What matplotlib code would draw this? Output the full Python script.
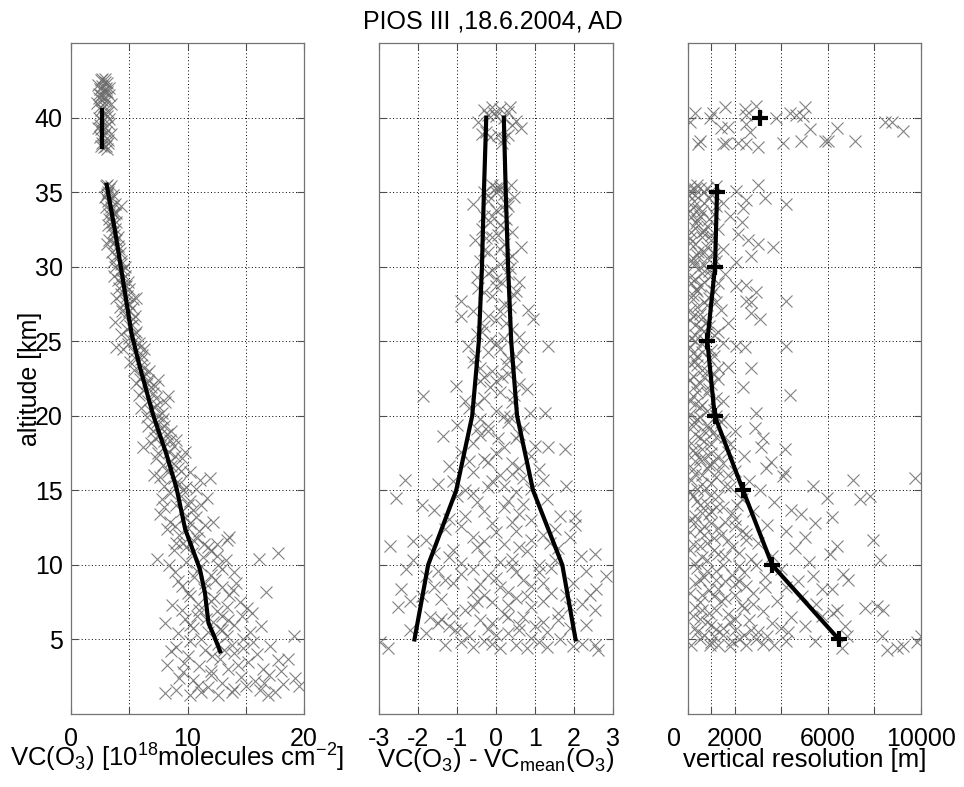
import numpy as np
import matplotlib
matplotlib.use("Agg")
import matplotlib.pyplot as plt
from matplotlib.transforms import ScaledTranslation

plt.rcParams['font.family'] = ['Liberation Sans', 'DejaVu Sans']
plt.rcParams['mathtext.fontset'] = 'custom'
plt.rcParams['mathtext.rm'] = 'Liberation Sans'
plt.rcParams['mathtext.it'] = 'Liberation Sans'
plt.rcParams['axes.unicode_minus'] = False

# ---- panel 1: ozone column, single retrievals (x) and mean profile
vc_pts = [2.6, 2.9, 3.1, 2.7, 3.0, 2.5, 2.8, 3.1, 2.6, 2.9, 2.4, 2.7, 3.0, 2.8, 2.6, 2.9, 3.1, 2.7, 2.5, 2.9,
          2.6, 3.0, 2.8, 3.2, 2.7, 3.0, 2.8, 3.2,
          3.0, 3.3, 3.1, 3.5, 3.2, 3.8, 4.3, 3.4, 3.7, 3.3, 3.9, 3.5, 3.6, 4.0, 3.1, 3.7, 4.1, 3.5, 3.9, 4.3,
          3.8, 4.2, 4.6, 4.0, 4.4, 5.0, 4.3, 5.35, 4.7, 4.2, 5.0, 5.5, 4.6, 3.8, 5.2, 4.8, 5.5, 5.0, 5.8, 3.9,
          4.5, 5.4, 6.1, 5.6, 6.0, 5.4, 6.4, 5.9, 7.2, 6.5, 6.2, 7.0, 8.35, 6.6, 7.4, 6.8, 7.8, 6.5, 7.4, 8.0,
          7.0, 7.6, 8.5, 6.9, 6.2, 8.0, 9.5, 7.5, 8.6, 7.9, 9.2, 8.3, 7.6, 11.1, 11.9, 9.0, 8.0, 9.6, 8.5,
          11.65, 10.2, 9.0, 10.5, 7.6, 9.8, 8.5, 11.5, 10.0, 8.2, 9.3, 10.8, 13.4, 13.6, 9.6, 11.8, 8.8, 10.4,
          12.5, 7.35, 16.1, 17.8, 9.9, 11.2, 13.0, 8.9, 10.6, 12.4, 14.2, 9.5, 16.7, 11.4, 13.6, 10.2, 12.0,
          14.5, 8.7, 15.1, 15.5, 11.0, 13.0, 9.8, 8.1, 12.2, 14.0, 10.5, 11.8, 9.2, 13.4, 19.1, 14.8, 10.2,
          12.6, 9.0, 17.1, 11.5, 14.0, 16.0, 10.0, 12.8, 15.2, 17.8, 8.2, 11.0, 13.5, 16.5, 9.6, 12.0, 14.6,
          18.0, 19.2, 10.5, 13.0, 15.8, 18.2, 11.8, 9.0, 14.0, 16.2, 8.1, 10.2, 12.6, 16.9, 13.8, 17.5]
alt_pts1 = [42.5, 42.4, 42.3, 42.1, 42.0, 41.9, 41.8, 41.7, 41.5, 41.4, 41.3, 41.2, 41.1, 40.8, 40.5, 40.3, 40.1,
            39.8, 39.5, 39.4, 39.2, 39.0, 38.8, 38.5, 38.3, 38.1, 38.0, 38.3,
            35.4, 35.2, 34.9, 34.6, 34.4, 34.2, 34.1, 33.8, 33.5, 33.2, 33.0, 32.7, 32.3, 32.0, 31.5, 31.6, 31.2,
            31.0, 30.7, 30.4, 30.0, 29.7, 29.4, 29.1, 28.8, 28.5, 28.2, 27.8, 27.6, 27.3, 27.0, 26.7, 26.6, 26.3,
            26.1, 25.8, 25.5, 25.2, 24.9, 24.6, 24.5, 24.3, 24.1, 23.8, 23.4, 23.1, 22.8, 22.5, 22.0, 22.2, 21.7,
            21.5, 21.3, 21.0, 20.7, 20.4, 20.2, 19.9, 19.6, 19.3, 19.0, 18.7, 18.4, 18.2, 17.9, 17.9, 17.2, 17.5,
            17.0, 16.7, 16.5, 16.2, 15.9, 15.7, 15.85, 15.5, 15.3, 15.0, 14.8, 14.5, 14.3, 14.0, 13.7, 13.4, 13.2,
            12.9, 12.7, 12.5, 12.4, 12.0, 11.8, 11.7, 11.9, 11.5, 11.2, 11.0, 10.8, 10.6, 10.4, 10.4, 10.8, 10.2,
            9.9, 9.7, 9.5, 9.2, 9.0, 8.8, 8.6, 8.2, 8.4, 8.0, 7.9, 7.6, 7.5, 7.3, 7.1, 6.8, 7.0, 6.6, 6.4, 6.1,
            6.2, 6.0, 5.8, 5.5, 5.4, 5.2, 5.2, 5.0, 4.9, 4.7, 4.5, 4.55, 4.3, 4.1, 4.0, 3.9, 3.7, 3.5, 3.6, 3.3,
            3.2, 3.0, 3.0, 2.8, 2.6, 2.5, 2.9, 2.4, 2.3, 2.1, 2.2, 2.0, 1.8, 1.6, 1.7, 1.6, 1.4, 1.3, 1.3, 1.3,
            1.5, 1.5]
# more retrievals packed close to the mean profile
vc_pts_b = [3.2, 3.4, 3.6, 3.5, 3.8, 3.9, 4.0, 4.2, 4.3, 4.5, 4.4, 4.7, 4.8, 5.0, 5.2, 5.3, 5.1, 5.6, 5.4, 5.9,
            6.0, 6.3, 6.1, 6.6, 6.9, 7.3, 7.1, 7.5, 7.9, 7.7, 8.2, 8.0, 8.8, 8.4, 8.9, 8.6, 9.4, 8.8, 9.3, 9.9,
            9.4, 10.0, 9.5, 10.7, 10.2, 11.0, 10.5, 11.4, 9.9, 12.0, 11.3, 12.6, 10.8, 12.0, 11.5, 13.0, 12.3,
            10.9, 13.4, 12.5, 11.6, 13.5, 12.8, 11.2, 13.8, 9.7, 12.1, 14.3, 15.0, 11.2, 12.0, 17.0, 14.8, 10.8,
            15.6]
alt_pts1_b = [35.0, 34.0, 33.6, 33.0, 32.5, 31.8, 31.4, 30.9, 30.2, 29.8, 29.2, 28.7, 28.0, 27.5, 27.2, 26.5,
              26.0, 25.6, 25.0, 24.6, 23.8, 23.2, 22.7, 22.4, 21.9, 21.2, 20.6, 20.0, 19.8, 19.2, 18.8, 18.3,
              18.0, 17.6, 17.3, 16.6, 16.3, 15.8, 15.4, 15.2, 14.6, 14.0, 13.6, 13.2, 12.8, 12.3, 11.7, 11.4,
              11.2, 10.9, 10.5, 10.0, 9.6, 9.3, 8.8, 8.5, 7.8, 7.4, 7.2, 6.9, 6.4, 6.3, 5.7, 5.0, 4.6, 3.4, 3.9,
              3.3, 1.9, 1.5, 2.9, 2.6, 4.4, 6.6, 4.8]
pts1_c = [(2.3, 42.2), (3.3, 42.0), (2.4, 41.6), (3.3, 41.5), (2.2, 41.0), (3.4, 40.9), (2.5, 40.7), (3.2, 40.4),
          (2.4, 40.0), (3.3, 39.9), (2.3, 39.3), (3.3, 39.6), (2.5, 38.7), (3.4, 38.9), (2.6, 38.1), (3.1, 37.9),
          (2.9, 42.6), (2.7, 42.6), (3.1, 35.5), (3.4, 35.4), (2.9, 34.7), (3.6, 34.8), (3.0, 34.0), (3.3, 33.5),
          (3.9, 33.6), (3.2, 32.8), (3.7, 32.1), (3.3, 31.8), (3.6, 30.3), (4.6, 30.0), (3.7, 29.4), (4.1, 28.6),
          (4.9, 29.0), (3.9, 27.9), (5.6, 27.9), (4.4, 27.0), (4.3, 25.5), (4.9, 24.8), (6.3, 24.5), (5.1, 23.6),
          (6.7, 23.0), (5.6, 22.2), (7.5, 22.4), (5.8, 21.4), (6.0, 20.5), (8.1, 20.9), (6.6, 19.3), (8.6, 19.0),
          (7.2, 18.5), (9.0, 18.4), (7.3, 17.2), (9.8, 17.6), (7.1, 16.0), (10.2, 16.2), (7.8, 14.4), (10.7, 15.1),
          (8.0, 13.9), (11.2, 14.0), (8.9, 12.6), (12.2, 12.9), (9.0, 11.5), (12.5, 11.4), (8.4, 10.0),
          (13.3, 10.3), (9.2, 8.9), (14.0, 9.5), (10.0, 8.1), (13.9, 8.3), (9.5, 7.0), (14.7, 6.6), (10.2, 6.0),
          (13.0, 5.6), (15.4, 5.5), (16.3, 5.9), (8.6, 4.2), (13.1, 4.3), (18.6, 3.7), (16.6, 2.1), (19.6, 1.9),
          (10.9, 1.9), (9.3, 2.4)]
vc_mean = [12.8, 12.3, 11.8, 11.5, 11.07, 9.8, 9.07, 8.2, 7.07, 5.9, 5.2, 4.5, 3.8, 3.06]
alt_mean1 = [4.2, 5.2, 6.1, 8.1, 9.7, 12.4, 15.1, 17.4, 20.0, 23.3, 25.5, 28.9, 32.3, 35.5]
vc_mean_top = [2.7, 2.7]
alt_mean_top = [38.0, 40.5]

# ---- panel 2: deviation from mean and +/- std envelope
dev_pts = [-0.3, -0.1, 0.1, 0.3, -0.2, 0.0, 0.2, 0.5, -0.45, 0.4, 0.65, -0.35, -0.15, 0.05, 0.2, 0.15,
           -0.1, 0.0, 0.1, 0.39, -0.3, 0.2, 0.45, -0.59, -0.2, 0.3, 0.0, -0.3, 0.25, 0.1, -0.35, 0.4, -0.1,
           -0.55, 0.65, 0.2, -0.2, 0.4, -0.4, 0.1, -0.1, 0.3, -0.5, 0.6, 0.0, -0.3, 0.45, -0.89, 0.2, 0.82,
           -0.6, -0.89, 0.95, 0.0, -0.3, 0.4, -0.5, 0.2, -0.72, 0.69, 1.33, 0.0, -0.2, 0.3, -0.6, 0.5, -0.1,
           0.15, -0.4, -1.02, 0.6, -1.87, 0.1, -0.3, 0.4, 0.86, 1.25, -0.7, 0.0, -0.4, 0.3, -1.0, 0.7, -0.2,
           -1.36, 0.5, -0.6, 1.33, 1.76, 0.2, -0.9, 0.9, -0.3, 0.4, -1.2, 1.1, -0.6, 0.1, -2.34, 0.7, -1.5,
           1.80, -0.2, 0.5, -2.56, -1.0, 1.3, -0.5, 0.2, -1.6, 1.63, 2.02, -0.8, 0.9, 2.02, -0.1, -1.3, 0.5,
           1.2, -0.6, -2.13, 1.38, -2.73, 0.2, -1.1, 0.8, 2.19, 2.53, -0.3, 1.5, -2.13, -0.9, 0.4, -1.5, 1.1,
           -1.79, 2.83, -0.2, 0.7, 1.97, -1.1, -2.43, 2.56, 0.1, -0.6, 1.4, 0.5, -1.4, -0.1, 2.2, -2.51, 2.53,
           0.9, -0.8, 1.6, 0.2, -1.7, -0.4, 1.2, 0.6, -1.2, -0.2, -1.06, 1.9, -1.79, 0.3, -0.7, 0.9, 1.63,
           -0.3, 1.97, 2.53, 2.62, -2.98, -2.77, 0.5, 1.3, -1.3, -0.6, 0.1]
alt_pts2 = [40.5, 40.7, 40.6, 40.4, 40.2, 40.1, 40.0, 39.8, 39.7, 39.5, 39.3, 38.9, 38.7, 38.8, 38.6, 38.3,
            35.5, 35.3, 35.4, 35.5, 35.0, 34.9, 34.7, 34.2, 34.4, 34.1, 33.8, 33.4, 33.2, 32.8, 32.5, 32.3,
            32.0, 31.8, 31.3, 31.5, 31.0, 30.7, 30.4, 30.2, 29.8, 29.5, 29.3, 29.0, 28.7, 28.3, 28.1, 27.7,
            27.5, 27.1, 27.0, 26.7, 26.5, 26.4, 26.0, 25.8, 25.5, 25.2, 24.7, 24.6, 24.7, 24.9, 24.3, 23.9,
            23.6, 23.3, 23.0, 22.6, 22.3, 22.0, 22.1, 21.3, 21.6, 21.2, 20.9, 20.2, 20.2, 20.5, 20.3, 19.8,
            19.6, 19.4, 19.2, 19.0, 18.65, 18.5, 18.2, 17.9, 17.75, 17.9, 17.6, 17.3, 17.1, 16.8, 16.6, 16.4,
            16.2, 16.0, 15.7, 15.8, 15.4, 15.3, 15.2, 14.9, 14.5, 14.6, 14.4, 14.2, 13.9, 13.7, 13.3, 13.3,
            13.3, 13.0, 12.7, 12.8, 12.4, 12.3, 12.0, 11.9, 11.6, 11.5, 11.3, 11.4, 11.0, 10.9, 10.6, 10.7,
            10.6, 10.3, 10.3, 10.1, 9.9, 9.6, 9.5, 9.25, 9.25, 9.3, 9.0, 8.8, 8.8, 8.4, 8.35, 8.5, 8.2, 8.1,
            7.8, 7.7, 7.5, 7.4, 7.2, 7.0, 7.2, 7.0, 6.8, 6.7, 6.5, 6.3, 6.2, 6.0, 5.9, 5.7, 5.65, 5.8, 5.45,
            5.4, 5.2, 5.1, 5.0, 4.9, 4.55, 4.65, 4.3, 4.8, 4.45, 4.6, 4.5, 4.6, 4.5, 4.4]
dev_pts_b = [0.1, -0.2, 0.15, -0.1, 0.2, -0.25, 0.1, 0.3, -0.2, 0.15, -0.1, 0.35, -0.2, 0.25, -0.35, 0.1,
             0.5, -0.4, 0.3, -0.15, 0.45, -0.5, 0.2, -0.2, 0.6, -0.4, 0.0, -0.7, 0.6, -0.1, 0.9, -0.8, 0.3,
             -0.3, 0.6, -1.2, 0.0, 0.9, -0.5, 1.6, -1.6, 0.4, -0.6, 1.4, 0.0, -1.3, 0.9, -0.3, 1.8, -1.9, 0.3,
             1.2, -1.1, 0.7, -0.1, 1.6, -1.5, 0.0, 1.3, -0.9, 0.8, 1.0, -0.5]
alt_pts2_b = [35.2, 34.8, 34.0, 33.4, 32.6, 31.9, 31.2, 30.5, 29.6, 28.9, 28.0, 27.3, 26.7, 26.2, 25.6, 24.5,
              24.0, 23.2, 22.8, 21.9, 21.4, 20.8, 20.0, 19.3, 18.8, 18.7, 17.5, 17.0, 16.5, 15.6, 15.1, 15.0,
              14.3, 13.6, 13.4, 13.1, 12.2, 11.7, 11.2, 11.1, 10.8, 10.4, 9.7, 9.8, 9.1, 9.0, 8.6, 8.0, 8.0,
              7.9, 7.3, 7.6, 6.8, 6.5, 6.1, 6.3, 6.1, 5.3, 5.5, 4.8, 4.4, 5.9, 7.6]
pts2_c = [(-0.05, 40.3), (0.35, 40.7), (-0.25, 39.0), (0.3, 38.8), (0.0, 35.0), (0.25, 34.3), (-0.15, 33.0),
          (0.05, 32.1), (-0.3, 31.1), (0.35, 29.9), (0.0, 29.2), (-0.45, 28.6), (0.5, 28.4), (0.1, 27.0),
          (-0.15, 25.1), (0.6, 25.3), (-0.55, 24.0), (0.25, 23.5), (-0.3, 22.6), (0.0, 22.3), (0.8, 21.8),
          (-0.8, 21.0), (0.35, 19.9), (-0.5, 19.1), (0.05, 18.5), (1.0, 18.0), (-0.2, 16.9), (0.4, 16.1),
          (-1.1, 15.6), (0.2, 15.3), (1.2, 15.7), (-0.6, 14.8), (0.7, 14.1), (-1.9, 14.0), (0.4, 12.9),
          (-0.9, 12.6), (1.5, 12.4), (-0.3, 11.6), (0.6, 11.2), (-1.8, 11.7), (1.9, 11.9), (0.1, 10.2),
          (-1.2, 10.5), (1.1, 10.0), (-2.3, 9.7), (0.5, 9.5), (-0.9, 9.4), (2.3, 9.6), (-0.4, 8.7), (1.2, 8.8),
          (-1.6, 8.5), (0.3, 8.2), (2.4, 8.0), (-2.2, 7.6), (0.8, 7.9), (-0.6, 7.2), (1.9, 7.2), (-1.4, 6.4),
          (0.3, 6.5), (2.3, 6.0), (-0.9, 5.8), (0.6, 5.6), (-2.2, 5.6), (1.1, 4.8), (-0.1, 4.7), (2.2, 4.7)]
alt_std = [5, 10, 15, 20, 25, 30, 35, 40]
std_low = [-2.09, -1.74, -1.02, -0.61, -0.44, -0.36, -0.31, -0.25]
std_high = [2.04, 1.70, 0.95, 0.54, 0.39, 0.31, 0.25, 0.20]

# ---- panel 3: vertical resolution
res_pts = [287, 72, 931, 1075, 1576, 1433, 1719, 2436, 2507, 2937, 2650, 2507, 3797, 4370, 4656, 5014, 4943,
           5229, 6375, 8453, 8739, 9241, 430, 501, 1504, 1648, 2149, 2507, 3009, 4083, 4871, 5874, 6017, 7163,
           100, 300, 501, 700, 1218, 2077, 3009, 3295, 4226, 2507, 2364, 1500, 900, 200, 600, 1100, 1800, 2300,
           400, 800, 1300, 2149, 150, 600, 2578, 3009, 3653, 1000, 300, 1500, 700, 2722, 200, 1200, 2077, 500,
           900, 1600, 100, 700, 1300, 2077, 2507, 2937, 400, 1000, 2722, 2507, 4226, 200, 800, 1400, 2722, 3081,
           500, 1719, 100, 900, 1300, 300, 700, 1500, 2077, 2436, 4226, 100, 600, 1100, 300, 1719, 2722, 800,
           200, 1300, 500, 2364, 900, 4370, 200, 1500, 600, 1100, 2937, 100, 400, 1400, 800, 2865, 2000, 300,
           1200, 3224, 700, 1800, 3152, 4155, 200, 1000, 2400, 500, 3582, 1500, 3367, 800, 2000, 4155, 300,
           4083, 1200, 7092, 9742, 2600, 600, 5372, 1800, 3100, 100, 1000, 5946, 7378, 7808, 2300, 3700, 500,
           1500, 4400, 2800, 4871, 900, 6160, 2000, 300, 5444, 3400, 1300, 4200, 2500, 700, 5000, 7951, 1700,
           3000, 6375, 200, 4600, 1100, 2200, 6089, 3600, 8238, 600, 5200, 2900, 1500, 4000, 800, 2400, 5372,
           6662, 6877, 3300, 1200, 4700, 300, 2000, 3295, 4226, 5731, 6160, 900, 2800, 4900, 1600, 3800, 500,
           5500, 7593, 8095, 8381, 2300, 6232, 6375, 1200, 3200, 5731, 4400, 200, 2000, 800, 3600, 6734, 5000,
           1500, 2700, 4300, 400, 6805, 8310, 10000, 3400, 1100, 2200, 2937, 501, 5444, 4226, 9814, 931, 143,
           1791, 6590, 8525, 8954, 9241, 3700]
alt_pts3 = [40.3, 39.7, 40.0, 40.3, 40.7, 39.3, 39.4, 40.6, 40.2, 40.8, 39.0, 39.55, 40.0, 40.3, 40.2, 40.7,
            40.1, 39.2, 39.3, 39.7, 39.7, 39.1, 38.2, 38.4, 38.2, 38.3, 38.3, 38.2, 38.0, 38.3, 38.4, 38.4, 38.4,
            38.4, 35.4, 35.2, 35.3, 35.0, 35.4, 35.1, 35.5, 34.6, 34.2, 34.5, 33.95, 34.3, 34.6, 34.0, 33.7, 33.5,
            33.4, 33.0, 33.1, 32.7, 32.5, 32.2, 32.3, 32.0, 31.8, 31.5, 31.3, 31.8, 31.5, 31.2, 31.0, 30.7, 30.6,
            30.4, 30.3, 30.0, 29.7, 29.5, 29.3, 29.0, 28.9, 28.7, 28.8, 28.3, 28.4, 28.1, 27.6, 27.7, 27.7, 27.8,
            27.4, 27.1, 26.9, 26.5, 26.8, 26.2, 26.4, 26.0, 25.6, 25.4, 25.1, 24.9, 24.7, 24.6, 24.7, 24.6, 24.3,
            24.0, 23.7, 23.3, 23.2, 23.0, 22.7, 22.5, 22.2, 21.9, 21.8, 21.4, 21.3, 21.0, 20.7, 20.4, 20.2, 20.1,
            19.8, 19.6, 19.4, 19.2, 19.0, 18.8, 18.6, 18.5, 18.3, 18.1, 17.9, 17.75, 17.7, 17.5, 17.3, 17.1,
            16.9, 16.8, 16.5, 16.5, 16.3, 16.2, 16.1, 15.95, 15.9, 15.7, 15.85, 15.6, 15.4, 15.3, 15.2, 15.0,
            14.9, 14.7, 14.5, 14.4, 14.6, 14.4, 14.2, 14.0, 13.9, 13.7, 13.6, 13.4, 13.4, 13.2, 13.1, 12.9,
            12.8, 12.7, 12.5, 12.3, 12.1, 12.0, 11.9, 11.7, 11.7, 11.5, 11.3, 11.4, 11.1, 11.0, 10.8, 10.7,
            10.6, 10.3, 10.5, 10.2, 10.0, 10.0, 9.7, 9.6, 9.5, 9.25, 9.4, 9.0, 9.2, 9.0, 8.9, 8.8, 8.7, 8.5,
            8.5, 8.35, 8.35, 8.3, 8.1, 7.9, 7.8, 7.6, 7.5, 7.4, 7.1, 7.25, 7.0, 7.3, 6.8, 7.0, 7.0, 6.9, 6.6,
            6.5, 6.6, 6.4, 6.2, 6.1, 5.9, 5.9, 5.8, 5.6, 5.5, 5.5, 5.2, 5.2, 5.2, 5.2, 5.2, 5.0, 5.0, 5.0, 4.9,
            4.9, 4.8, 4.65, 4.65, 4.55, 4.45, 4.3, 4.45, 4.55, 4.6]
res_pts_b = [50, 250, 450, 150, 350, 700, 100, 450, 800, 250, 600, 150, 350, 900, 100, 550, 300, 700, 150,
             1000, 400, 150, 600, 1100, 300, 800, 100, 500, 1200, 250, 700, 1100, 150, 600, 1300, 300, 900,
             1700, 150, 700, 1300, 400, 2100, 1000, 300, 1600, 700, 2300, 100, 1100, 500, 1900, 1300, 300, 2200,
             700, 1600, 2500, 100, 1100, 2800, 600, 1700, 2600, 1000, 300, 2000, 1500, 3000, 4000, 1300, 2500]
alt_pts3_b = [34.8, 34.4, 33.9, 33.3, 32.9, 32.4, 31.9, 31.0, 30.6, 30.1, 29.6, 28.9, 28.5, 27.9, 27.1, 26.5,
              26.1, 25.7, 25.2, 24.4, 24.0, 23.5, 23.1, 22.8, 22.0, 21.5, 21.0, 20.6, 20.0, 19.6, 19.0, 18.9,
              18.2, 17.8, 17.3, 17.0, 16.7, 16.0, 15.7, 15.0, 14.6, 14.3, 14.0, 13.6, 13.3, 12.9, 12.6, 12.3,
              12.2, 11.8, 11.3, 11.2, 10.7, 10.1, 9.9, 9.2, 8.9, 8.6, 8.1, 7.9, 7.4, 7.0, 6.7, 6.3, 6.0, 5.8,
              5.6, 5.3, 5.5, 5.8, 4.6, 4.6]
pts3_c = [(100, 35.1), (400, 35.5), (800, 35.3), (1000, 34.9), (300, 34.8), (700, 34.3), (1200, 34.1),
          (100, 33.7), (500, 33.4), (900, 33.2), (300, 32.6), (600, 32.3), (1000, 32.1), (100, 31.6), (800, 31.3),
          (400, 30.8), (1100, 30.9), (200, 30.3), (700, 30.1), (1000, 29.4), (300, 29.2), (500, 28.7),
          (1100, 28.4), (200, 28.1), (700, 27.6), (400, 27.3), (1200, 27.6), (200, 26.7), (800, 26.3),
          (500, 25.9), (1100, 25.4), (300, 25.0), (600, 24.8), (200, 24.2), (900, 23.9), (400, 23.4),
          (1300, 23.2), (700, 22.6), (100, 22.4), (1000, 22.1), (400, 21.6), (1200, 21.2), (300, 20.8),
          (800, 20.3), (500, 19.9), (1500, 19.8), (200, 19.3), (900, 19.1), (1600, 18.6), (500, 18.5),
          (1000, 18.1), (300, 17.5), (1700, 17.6), (700, 17.2), (1100, 16.9), (200, 16.4), (600, 16.0),
          (1300, 16.3), (1000, 15.5), (400, 15.1), (1600, 15.3), (200, 14.6), (800, 14.1), (1200, 13.9),
          (600, 13.5), (1900, 13.5), (100, 13.0), (1000, 12.8), (2000, 12.6), (500, 12.3), (1400, 12.0),
          (800, 11.5), (2500, 11.7), (100, 11.0), (1600, 10.6), (800, 10.3), (2700, 10.4), (400, 9.8),
          (1200, 9.6), (1900, 9.3), (500, 9.0), (2200, 8.9), (1300, 8.4), (600, 8.0), (2000, 8.0), (1400, 7.6),
          (300, 7.2), (2400, 7.1), (900, 6.8), (1800, 6.2), (500, 6.4), (1200, 5.7), (700, 5.3), (2400, 5.3),
          (1000, 4.8), (1900, 4.9), (3200, 4.7)]
alt_res = [5, 10, 15, 20, 25, 30, 35, 40]
res_mean = [6476, 3610, 2364, 1146, 830, 1160, 1246, 3109]

FS = 18
pt_color = (0.42, 0.42, 0.42)
pt_kw = dict(linestyle='none', marker='x', color=pt_color, ms=8, mew=0.8, alpha=0.85)

fig = plt.figure(figsize=(9.64, 7.87), dpi=100)
W, H = 964, 787
boxes = [(71, 304), (379, 613), (688, 921)]
axs = [fig.add_axes([l / W, (H - 714) / H, (r - l) / W, 671 / H]) for l, r in boxes]

for ax in axs:
    ax.set_ylim(0, 45)
    ax.set_yticks([5, 10, 15, 20, 25, 30, 35, 40])
    ax.grid(True, linestyle=(0, (1, 2.5)), color='k', linewidth=0.7)
    ax.tick_params(direction='in', top=True, right=True, length=5, width=0.8,
                   labelsize=FS, colors='0.3', labelcolor='k', pad=6)
    ax.tick_params(axis='x', pad=9)
    for s in ax.spines.values():
        s.set_color('0.45')
        s.set_linewidth(0.9)

ax1, ax2, ax3 = axs

ax1.plot(vc_pts, alt_pts1, **pt_kw)
ax1.plot(vc_pts_b, alt_pts1_b, **pt_kw)
ax1.plot(*zip(*pts1_c), **pt_kw)
ax1.plot(vc_mean, alt_mean1, 'k-', lw=3)
ax1.plot(vc_mean_top, alt_mean_top, 'k-', lw=3)
ax1.set_xlim(0, 20)
ax1.set_xticks([0, 5, 10, 15, 20])
ax1.set_xticklabels(['0', '', '10', '', '20'])
ax1.set_xlabel(r'VC(O$_3$) [10$^{18}$molecules cm$^{-2}$]', fontsize=18.5)
ax1.xaxis.set_label_coords(0.455, -0.079)
ax1.xaxis.label.set_va('baseline')
ax1.set_ylabel('altitude [km]', fontsize=FS)
ax1.yaxis.set_label_coords(-0.176, 0.5)
ax1.yaxis.label.set_va('center')

ax2.plot(dev_pts, alt_pts2, **pt_kw)
ax2.plot(dev_pts_b, alt_pts2_b, **pt_kw)
ax2.plot(*zip(*pts2_c), **pt_kw)
ax2.plot(std_low, alt_std, 'k-', lw=3)
ax2.plot(std_high, alt_std, 'k-', lw=3)
ax2.set_xlim(-3, 3)
ax2.set_xticks([-3, -2, -1, 0, 1, 2, 3])
ax2.set_yticklabels([])
ax2.set_xlabel(r'VC(O$_3$) - VC$_{\mathrm{mean}}$(O$_3$)', fontsize=18.5)
ax2.xaxis.set_label_coords(0.5, -0.079)
ax2.xaxis.label.set_va('baseline')

ax3.plot(res_pts, alt_pts3, **pt_kw)
ax3.plot(res_pts_b, alt_pts3_b, **pt_kw)
ax3.plot(*zip(*pts3_c), **pt_kw)
ax3.plot(res_mean[:7], alt_res[:7], 'k-', lw=3)
ax3.plot(res_mean, alt_res, 'k+', ms=12, mew=3)
ax3.set_xlim(0, 10000)
ax3.set_xticks([0, 1000, 2000, 4000, 6000, 8000, 10000])
ax3.set_xticklabels(['', '', '2000', '', '6000', '', '10000'])
zero_tr = ax3.get_xaxis_transform() + ScaledTranslation(0, -9 / 72, fig.dpi_scale_trans)
ax3.text(-600, 0, '0', transform=zero_tr, ha='center', va='top', fontsize=FS)
ax3.set_yticklabels([])
ax3.set_xlabel('vertical resolution [m]', fontsize=18.5)
ax3.xaxis.set_label_coords(0.5, -0.079)
ax3.xaxis.label.set_va('baseline')

fig.text(493 / W, 1 - 22 / H, 'PIOS III ,18.6.2004, AD', ha='center', va='center', fontsize=18)

fig.savefig('out.png', dpi=100)
